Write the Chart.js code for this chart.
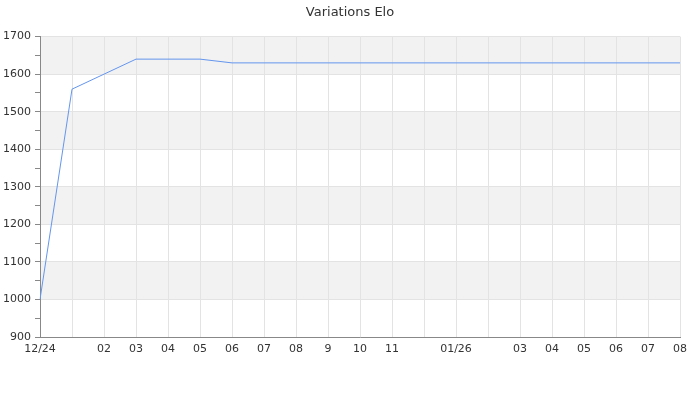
<!DOCTYPE html>
<html>
<head>
<meta charset="utf-8">
<script src="https://cdn.jsdelivr.net/npm/chart.js@4"></script>
<style>
  html, body { margin: 0; padding: 0; background: #fff; }
  #wrap { width: 700px; height: 400px; }
</style>
</head>
<body>
<div id="wrap"><canvas id="elo-chart"></canvas></div>
<script>
// x labels, blanks where the original axis shows nothing
const labels = ['12/24', '', '02', '03', '04', '05', '06', '07', '08', '9', '10', '11', '',
  '01/26', '', '03', '04', '05', '06', '07', '08'];
const elo = [1000, 1560, 1600, 1640, 1640, 1640, 1630, 1630, 1630, 1630, 1630, 1630, 1630,
  1630, 1630, 1630, 1630, 1630, 1630, 1630, 1630];
const yMin = 900;
const yMax = 1700;

// grey stripe every other hundred
const stripes = {
  id: 'stripes',
  beforeDraw(chart) {
    const ctx = chart.ctx;
    const area = chart.chartArea;
    const y = chart.scales.y;
    ctx.save();
    ctx.fillStyle = '#f2f2f2';
    for (let v = 1000; v < yMax; v += 200) {
      let top = y.getPixelForValue(v + 100);
      let bottom = y.getPixelForValue(v);
      ctx.fillRect(area.left, top, area.right - area.left, bottom - top);
    }
    ctx.restore();
  }
};

Chart.defaults.font.family = "'DejaVu Sans', sans-serif";
Chart.defaults.font.size = 11;
Chart.defaults.color = '#333';

new Chart(document.getElementById('elo-chart'), {
  type: 'line',
  data: {
    labels: labels,
    datasets: [{
      label: 'Elo',
      data: elo,
      borderColor: '#6495ed',
      borderWidth: 1,
      pointRadius: 0,
      tension: 0,
      fill: false
    }]
  },
  options: {
    responsive: true,
    maintainAspectRatio: false,
    animation: false,
    layout: { padding: 0 },
    plugins: {
      legend: { display: false },
      tooltip: { enabled: false },
      title: {
        display: true,
        text: 'Variations Elo',
        color: '#333',
        font: { size: 13, weight: 'normal' },
        padding: { top: 5, bottom: 16 }
      }
    },
    scales: {
      x: {
        offset: false,
        grid: { color: '#e3e3e3', drawTicks: false },
        border: { color: '#888' },
        ticks: { autoSkip: false, maxRotation: 0, padding: 6 },
        afterFit(scale) { scale.height = 63; }
      },
      y: {
        min: yMin,
        max: yMax,
        grid: {
          color: (c) => (c.tick && c.tick.value % 100 === 0 ? '#e3e3e3' : 'rgba(0,0,0,0)'),
          tickColor: '#888',
          tickLength: 5
        },
        border: { color: '#888' },
        ticks: {
          stepSize: 50,
          padding: 4,
          callback: (v) => (v % 100 === 0 ? v : '')
        },
        afterFit(scale) { scale.width = 40; }
      },
      // empty right axis, only keeps 20px free so the title stays centred
      yRight: {
        type: 'linear',
        position: 'right',
        grid: { display: false, drawTicks: false },
        border: { display: false },
        ticks: { display: false },
        afterFit(scale) { scale.width = 20; }
      }
    }
  },
  plugins: [stripes]
});
</script>
</body>
</html>
